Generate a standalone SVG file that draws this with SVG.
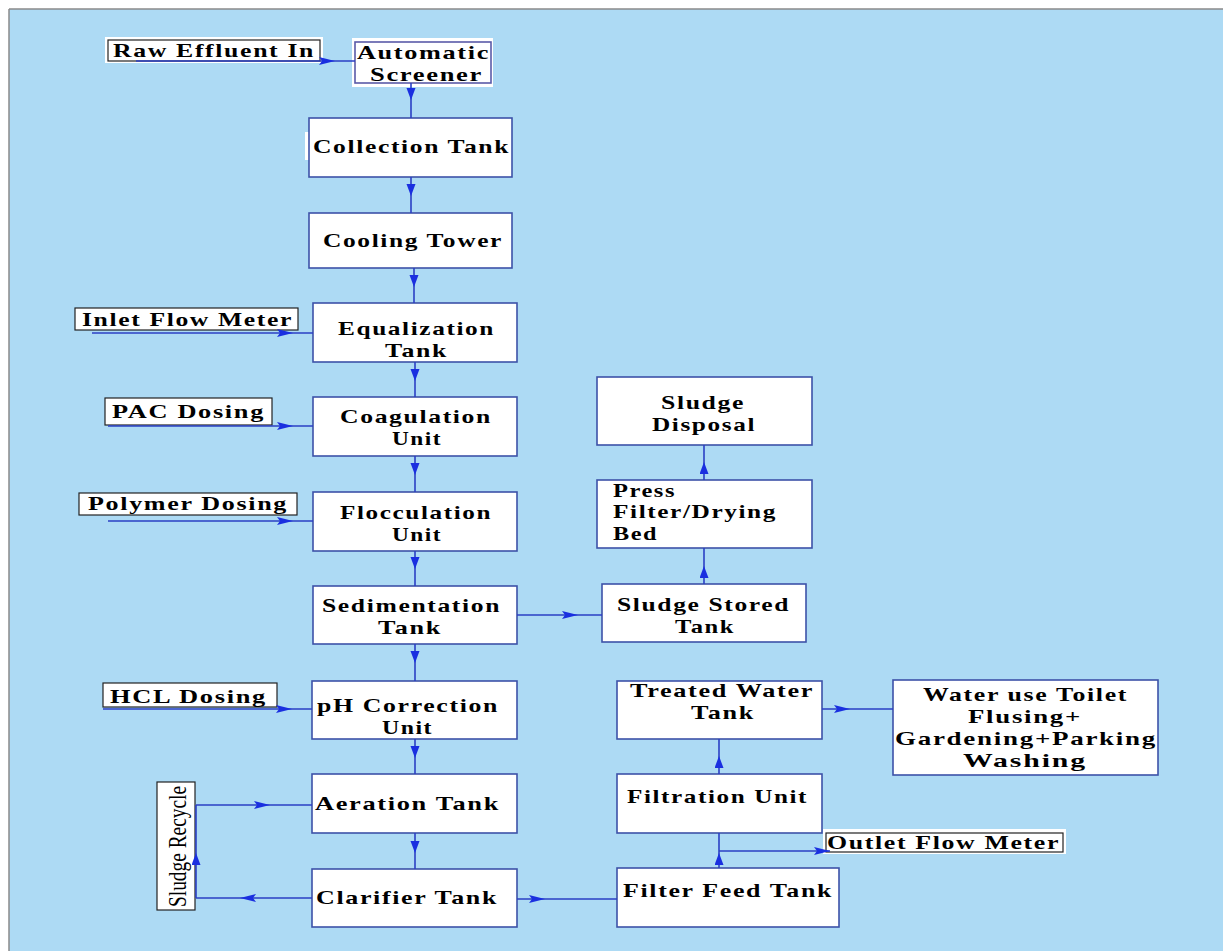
<svg xmlns="http://www.w3.org/2000/svg" width="1223" height="951" viewBox="0 0 1223 951">
<defs>
<marker id="ah" markerUnits="userSpaceOnUse" markerWidth="18" markerHeight="10" refX="16" refY="4" orient="auto"><path d="M0,0 L16,4 L0,8 L3,4 z" fill="#1a2fe0"/></marker>
<marker id="av" markerUnits="userSpaceOnUse" markerWidth="13" markerHeight="10" refX="12" refY="4.5" orient="auto"><path d="M0,0 L12,4.5 L0,9 z" fill="#1a2fe0"/></marker>
<style>
.box{fill:#fff;stroke:#3d52a8;stroke-width:1.6}
.lbl{fill:#fff;stroke:#222;stroke-width:1.2}
.halo{fill:#fff;stroke:none}
.t{font-family:"Liberation Serif","Times New Roman",serif;font-weight:bold;font-size:19px;letter-spacing:1.2px;fill:#000}
.r{font-family:"Liberation Serif","Times New Roman",serif;font-size:25px;fill:#000}
.c{fill:none;stroke:#2b3fc4;stroke-width:1.6}
.h{marker-mid:url(#ah)}
.v{marker-mid:url(#av)}
</style>
</defs>
<rect x="0" y="0" width="1223" height="951" fill="#fff"/>
<rect x="9" y="9" width="1214" height="942" fill="#ADDAF4"/>
<path d="M9 9 H1223 M9 9 V951" fill="none" stroke="#8a8a8a" stroke-width="1.5"/>

<g id="raw-effluent-in"><rect class="halo" x="105" y="37" width="218" height="26"/><rect class="lbl" x="108" y="40" width="212" height="21"/><text class="t" x="113" y="57" textLength="202" lengthAdjust="spacingAndGlyphs">Raw Effluent In</text></g>
<g id="automatic-screener"><rect class="halo" x="352" y="38" width="141" height="49"/><rect class="box" x="355" y="42" width="136" height="41" style="stroke:#5a5aa8"/><text class="t" x="357" y="59" textLength="133" lengthAdjust="spacingAndGlyphs">Automatic</text><text class="t" x="370" y="81" textLength="113" lengthAdjust="spacingAndGlyphs">Screener</text></g>
<g id="collection-tank"><rect class="halo" x="305" y="132" width="10" height="28"/><rect class="box" x="309" y="118" width="203" height="59"/><text class="t" x="313" y="153" textLength="197" lengthAdjust="spacingAndGlyphs">Collection Tank</text></g>
<g id="cooling-tower"><rect class="box" x="309" y="213" width="203" height="55"/><text class="t" x="323" y="247" textLength="180" lengthAdjust="spacingAndGlyphs">Cooling Tower</text></g>
<g id="inlet-flow-meter"><rect class="lbl" x="75" y="308" width="223" height="22"/><text class="t" x="82" y="326" textLength="211" lengthAdjust="spacingAndGlyphs">Inlet Flow Meter</text></g>
<g id="equalization-tank"><rect class="box" x="313" y="303" width="204" height="59"/><text class="t" x="338" y="335" textLength="157" lengthAdjust="spacingAndGlyphs">Equalization</text><text class="t" x="385" y="357" textLength="63" lengthAdjust="spacingAndGlyphs">Tank</text></g>
<g id="pac-dosing"><rect class="lbl" x="105" y="398" width="167" height="27"/><text class="t" x="112" y="418" textLength="153" lengthAdjust="spacingAndGlyphs">PAC Dosing</text></g>
<g id="coagulation-unit"><rect class="box" x="313" y="397" width="204" height="59"/><text class="t" x="340" y="423" textLength="152" lengthAdjust="spacingAndGlyphs">Coagulation</text><text class="t" x="392" y="445" textLength="50" lengthAdjust="spacingAndGlyphs">Unit</text></g>
<g id="polymer-dosing"><rect class="lbl" x="79" y="493" width="218" height="22"/><text class="t" x="88" y="510" textLength="200" lengthAdjust="spacingAndGlyphs">Polymer Dosing</text></g>
<g id="flocculation-unit"><rect class="box" x="313" y="492" width="204" height="59"/><text class="t" x="340" y="519" textLength="152" lengthAdjust="spacingAndGlyphs">Flocculation</text><text class="t" x="392" y="541" textLength="50" lengthAdjust="spacingAndGlyphs">Unit</text></g>
<g id="sedimentation-tank"><rect class="box" x="313" y="586" width="204" height="58"/><text class="t" x="322" y="612" textLength="179" lengthAdjust="spacingAndGlyphs">Sedimentation</text><text class="t" x="378" y="634" textLength="64" lengthAdjust="spacingAndGlyphs">Tank</text></g>
<g id="sludge-disposal"><rect class="box" x="597" y="377" width="215" height="68"/><text class="t" x="661" y="409" textLength="84" lengthAdjust="spacingAndGlyphs">Sludge</text><text class="t" x="652" y="431" textLength="104" lengthAdjust="spacingAndGlyphs">Disposal</text></g>
<g id="press-filter"><rect class="box" x="597" y="480" width="215" height="68"/><text class="t" x="613" y="497" textLength="63" lengthAdjust="spacingAndGlyphs">Press</text><text class="t" x="613" y="518" textLength="164" lengthAdjust="spacingAndGlyphs">Filter/Drying</text><text class="t" x="613" y="540" textLength="45" lengthAdjust="spacingAndGlyphs">Bed</text></g>
<g id="sludge-stored-tank"><rect class="box" x="602" y="584" width="204" height="58"/><text class="t" x="617" y="611" textLength="173" lengthAdjust="spacingAndGlyphs">Sludge Stored</text><text class="t" x="675" y="633" textLength="60" lengthAdjust="spacingAndGlyphs">Tank</text></g>
<g id="hcl-dosing"><rect class="lbl" x="103" y="683" width="174" height="24"/><text class="t" x="110" y="703" textLength="157" lengthAdjust="spacingAndGlyphs">HCL Dosing</text></g>
<g id="ph-correction-unit"><rect class="box" x="312" y="681" width="205" height="58"/><text class="t" x="317" y="712" textLength="182" lengthAdjust="spacingAndGlyphs">pH Correction</text><text class="t" x="382" y="734" textLength="51" lengthAdjust="spacingAndGlyphs">Unit</text></g>
<g id="aeration-tank"><rect class="box" x="312" y="774" width="205" height="59"/><text class="t" x="315" y="810" textLength="185" lengthAdjust="spacingAndGlyphs">Aeration Tank</text></g>
<g id="clarifier-tank"><rect class="box" x="312" y="869" width="205" height="58"/><text class="t" x="316" y="904" textLength="182" lengthAdjust="spacingAndGlyphs">Clarifier Tank</text></g>
<g id="sludge-recycle"><rect class="lbl" x="157" y="782" width="38" height="128"/><text class="r" transform="translate(186,907) rotate(-90)" x="0" y="0" textLength="121" lengthAdjust="spacingAndGlyphs">Sludge Recycle</text></g>
<g id="treated-water-tank"><rect class="box" x="617" y="681" width="205" height="58"/><text class="t" x="630" y="697" textLength="184" lengthAdjust="spacingAndGlyphs">Treated Water</text><text class="t" x="691" y="719" textLength="64" lengthAdjust="spacingAndGlyphs">Tank</text></g>
<g id="water-use"><rect class="box" x="893" y="680" width="265" height="95"/><text class="t" x="923" y="701" textLength="205" lengthAdjust="spacingAndGlyphs">Water use Toilet</text><text class="t" x="968" y="723" textLength="114" lengthAdjust="spacingAndGlyphs">Flusing+</text><text class="t" x="895" y="745" textLength="262" lengthAdjust="spacingAndGlyphs">Gardening+Parking</text><text class="t" x="963" y="767" textLength="124" lengthAdjust="spacingAndGlyphs">Washing</text></g>
<g id="filtration-unit"><rect class="box" x="617" y="774" width="205" height="59"/><text class="t" x="627" y="803" textLength="181" lengthAdjust="spacingAndGlyphs">Filtration Unit</text></g>
<g id="filter-feed-tank"><rect class="box" x="617" y="868" width="222" height="59"/><text class="t" x="623" y="897" textLength="210" lengthAdjust="spacingAndGlyphs">Filter Feed Tank</text></g>
<g id="outlet-flow-meter"><rect class="halo" x="823" y="829" width="243" height="25"/><rect class="lbl" x="826" y="833" width="237" height="19"/><text class="t" x="827" y="849" textLength="233" lengthAdjust="spacingAndGlyphs">Outlet Flow Meter</text></g>

<g id="connectors">
<path class="c h" d="M136 61 H335 H355"/>
<path class="c v" d="M411 83 V100 V118"/>
<path class="c v" d="M411 177 V196 V213"/>
<path class="c v" d="M414 268 V287 V303"/>
<path class="c h" d="M92 333 H293 H313"/>
<path class="c v" d="M415 362 V381 V397"/>
<path class="c h" d="M108 426 H293 H313"/>
<path class="c v" d="M415 456 V475 V492"/>
<path class="c h" d="M108 521 H293 H313"/>
<path class="c v" d="M415 551 V569 V586"/>
<path class="c h" d="M517 615 H578 H602"/>
<path class="c v" d="M704 584 V566 V548"/>
<path class="c v" d="M704 480 V462 V445"/>
<path class="c v" d="M415 644 V663 V681"/>
<path class="c h" d="M103 709 H292 H312"/>
<path class="c v" d="M415 739 V758 V774"/>
<path class="c v" d="M415 833 V853 V869"/>
<path class="c h" d="M312 898 H240 H196"/>
<path class="c v" d="M196 898 V853 V805"/>
<path class="c h" d="M196 805 H270 H312"/>
<path class="c h" d="M517 899 H545 H617"/>
<path class="c v" d="M719 868 V853 V833"/>
<path class="c" d="M719 851 H830" marker-end="url(#ah)"/>
<path class="c v" d="M719 774 V756 V739"/>
<path class="c h" d="M822 709 H850 H893"/>
</g>
</svg>
